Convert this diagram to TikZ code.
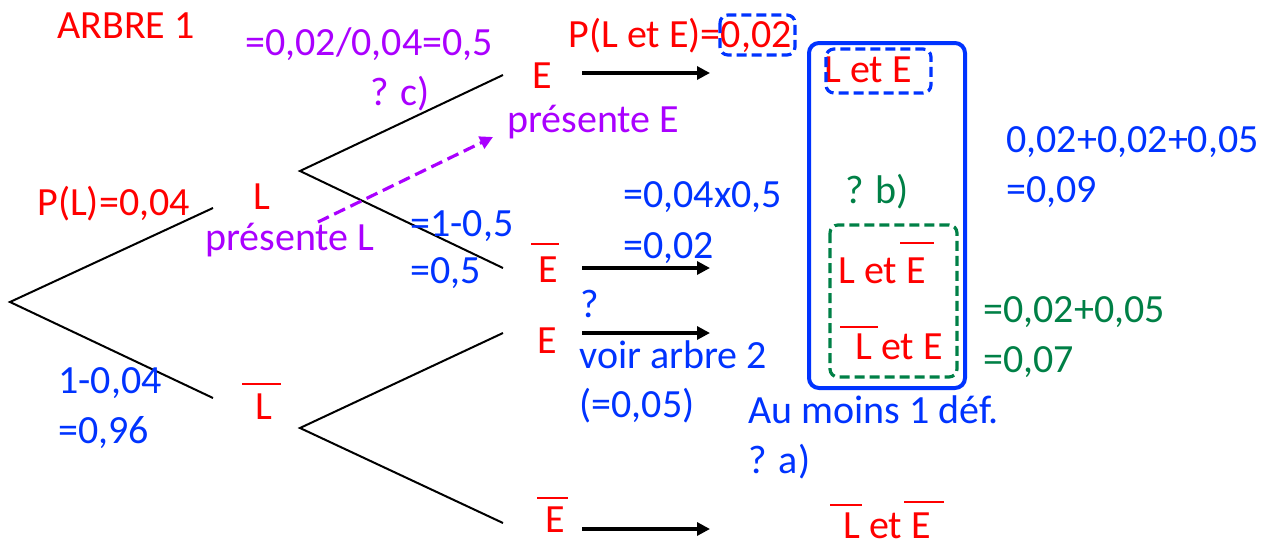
\documentclass[tikz,border=0pt]{standalone}
\usepackage{fontspec}
\setmainfont{Carlito}
\usetikzlibrary{arrows.meta}
\definecolor{tred}{RGB}{255,0,0}
\definecolor{tblue}{RGB}{0,51,255}
\definecolor{tgreen}{RGB}{0,128,70}
\definecolor{tpurple}{RGB}{170,0,255}

\begin{document}
\begin{tikzpicture}[x=0.5pt,y=-0.5pt,
  txt/.style={anchor=base west, inner sep=0pt, font=\fontsize{20}{24}\selectfont},
  branch/.style={line width=1pt, black},
  result/.style={line width=1.6pt, black, -{Triangle[length=6.5pt,width=6.5pt]}},
  bar/.style={tred, line width=1pt},
  dashbox/.style={line width=1.6pt, dash pattern=on 5pt off 2.5pt, rounded corners=4pt},
]
\useasboundingbox (0,0) rectangle (1270,546);

% tree skeleton
\coordinate (root) at (10,302);
\coordinate (bL) at (213,208);
\coordinate (bLb) at (213,398);
\coordinate (vL) at (300,171);
\coordinate (vLb) at (300,428);
\coordinate (bLE) at (503,75);
\coordinate (bLEb) at (503,268);
\coordinate (bLbE) at (503,333);
\coordinate (bLbEb) at (503,523);

\draw[branch] (bL) -- (root) -- (bLb);
\draw[branch] (bLE) -- (vL) -- (bLEb);
\draw[branch] (bLbE) -- (vLb) -- (bLbEb);

% outcomes on the branches
\node[txt, tred] (nL) at (253,209) {L};
\node[txt, tred] (nLb) at (255,419) {L};
\draw[bar] (242,384) -- (281,384);
\node[txt, tred] (nE1) at (532,88) {E};
\node[txt, tred] (nE2) at (538,282) {E};
\draw[bar] (531,244) -- (559,244);
\node[txt, tred] (nE3) at (537,353) {E};
\node[txt, tred] (nE4) at (545,532) {E};
\draw[bar] (537,498) -- (568,498);

% result arrows
\coordinate (r1s) at (582,73);  \coordinate (r1e) at (710,73);
\coordinate (r2s) at (582,268); \coordinate (r2e) at (710,268);
\coordinate (r3s) at (582,333); \coordinate (r3e) at (710,333);
\coordinate (r4s) at (582,529); \coordinate (r4e) at (710,529);
\draw[result] (r1s) -- (r1e);
\draw[result] (r2s) -- (r2e);
\draw[result] (r3s) -- (r3e);
\draw[result] (r4s) -- (r4e);

% titles and probabilities
\node[txt, tred] (title) at (57,39) {ARBRE 1};
\node[txt, tred] (pL) at (37,215) {P(L)=0,04};
\node[txt, tblue] (pLb1) at (58,393) {1-0,04};
\node[txt, tblue] (pLb2) at (58,443) {=0,96};
\node[txt, tred] (pLE) at (568,47) {P(L et E)=0,02};

% conditional probability (question c)
\node[txt, tpurple] (cond1) at (245,55) {=0,02/0,04=0,5};
\node[txt, tpurple] (qc) at (370,105) {? c)};
\node[txt, tpurple] (presL) at (205,250) {présente L};
\node[txt, tpurple] (presE) at (507,132) {présente E};
\coordinate (pas) at (318,222);
\coordinate (pae) at (493,137);
\draw[tpurple, line width=1.6pt, dash pattern=on 6pt off 3pt,
      -{Triangle[length=6.5pt,width=6.5pt]}] (pas) -- (pae);

% computations in blue
\node[txt, tblue] (c1) at (410,236) {=1-0,5};
\node[txt, tblue] (c2) at (410,283) {=0,5};
\node[txt, tblue] (c3) at (623,207) {=0,04x0,5};
\node[txt, tblue] (c4) at (623,258) {=0,02};
\node[txt, tblue] (q3) at (580,317) {?};
\node[txt, tblue] (v2) at (579,368) {voir arbre 2};
\node[txt, tblue] (v3) at (579,417) {(=0,05)};
\node[txt, tblue] (am) at (748,423) {Au moins 1 déf.};
\node[txt, tblue] (qa) at (748,473) {? a)};
\node[txt, tblue] (s1) at (1006,152) {0,02+0,02+0,05};
\node[txt, tblue] (s2) at (1006,202) {=0,09};

% question b in green
\node[txt, tgreen] (qb) at (845,203) {? b)};
\node[txt, tgreen] (g1) at (983,322) {=0,02+0,05};
\node[txt, tgreen] (g2) at (983,372) {=0,07};

% joint events
\node[txt, tred] (j1) at (824,83) {L et E};
\node[txt, tred] (j2) at (838,283) {L et E};
\draw[bar] (900,243) -- (934,243);
\node[txt, tred] (j3) at (855,359) {L et E};
\draw[bar] (840,327) -- (878,327);
\node[txt, tred] (j4) at (843,538) {L et E};
\draw[bar] (830,505) -- (862,505);
\draw[bar] (904,502) -- (944,502);

% frames
\draw[tblue, line width=2pt, rounded corners=5pt] (809,43) rectangle (965,388);
\draw[tblue, dashbox] (826,49) rectangle (931,93);
\draw[tblue, dashbox] (720,15) rectangle (795,55);
\draw[tgreen, dashbox] (830,225) rectangle (957,377);
\end{tikzpicture}
\end{document}
